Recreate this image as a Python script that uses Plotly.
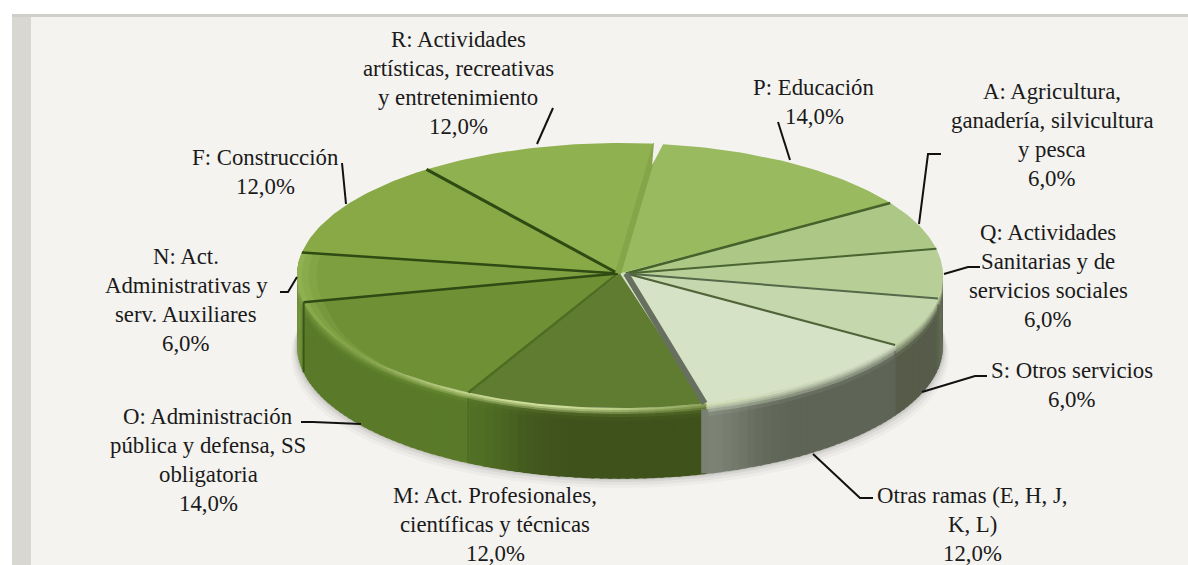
import numpy as np
import plotly.graph_objects as go

# ---------- data ----------
categories = ["P: Educación", "A: Agricultura, ganadería, silvicultura y pesca",
              "Q: Actividades Sanitarias y de servicios sociales", "S: Otros servicios",
              "Otras ramas (E, H, J, K, L)", "M: Act. Profesionales, científicas y técnicas",
              "O: Administración pública y defensa, SS obligatoria",
              "N: Act. Administrativas y serv. Auxiliares", "F: Construcción",
              "R: Actividades artísticas, recreativas y entretenimiento"]
values = [14, 6, 6, 6, 12, 12, 14, 6, 12, 12]
label_lines = [
    ["P: Educación"],
    ["A: Agricultura,", "ganadería, silvicultura", "y pesca"],
    ["Q: Actividades", "Sanitarias y de", "servicios sociales"],
    ["S: Otros servicios"],
    ["Otras ramas (E, H, J,", "K, L)"],
    ["M: Act. Profesionales,", "científicas y técnicas"],
    ["O: Administración", "pública y defensa, SS", "obligatoria"],
    ["N: Act.", "Administrativas y", "serv. Auxiliares"],
    ["F: Construcción"],
    ["R: Actividades", "artísticas, recreativas", "y entretenimiento"],
]

# ---------- styles and placement ----------
top_colors = ["#9aba60", "#adc786", "#b7cf96", "#c5d7ac", "#d6e2c6",
              "#607c30", "#6f9035", "#7e9f40", "#88a946", "#90b150"]
wall_colors = ["#7f9a50", "#7f9a50", "#595f4b", "#565c49", "#5e6456",
               "#3f521c", "#5a7a2a", "#6a8c33", "#6a8c33", "#6a8c33"]
label_anchor = [(814, 87), (1052, 91), (1048, 232), (1072, 370), (972, 495),
                (495, 495), (208, 416), (186, 256), (265, 157), (458, 39)]
leaders = [[(778, 122), (790, 160)], [(941, 154), (928, 154), (919, 224)],
           [(980, 267), (968, 267), (944, 274)], [(987, 376), (975, 376), (922, 392)],
           [(873, 498), (860, 498), (813, 454)], None,
           [(301, 422), (313, 422), (361, 424)], [(280, 292), (288, 292), (297, 277)],
           [(342, 163), (346, 204)], [(553, 108), (537, 144)]]
START_DEG = 6.4
CX, CY, RX, RY, DEPTH = 620, 275.5, 323, 132.5, 70
LINE_H = 29
FONT = "Liberation Serif"
FSIZE = 22.8


def rgb(h):
    return np.array([int(h[i:i + 2], 16) for i in (1, 3, 5)], float)


def css(c):
    return "rgb(%d,%d,%d)" % tuple(np.clip(c, 0, 255))


def ell(t, scale=1.0, dy=0.0):
    r = np.radians(t)
    return CX + RX * scale * np.sin(r), CY + RY * scale * -np.cos(r) + dy


def poly(x, y, color, name=None, width=0):
    return go.Scatter(x=list(x), y=list(y), mode="lines", fill="toself", fillcolor=color,
                      line=dict(width=width, color=color), hoverinfo="skip" if name is None else "text",
                      text=name, showlegend=False)


fig = go.Figure()

# slice boundaries come straight from the values
edges = START_DEG + np.concatenate([[0], np.cumsum(values)]) * 3.6

# soft drop shadow
for k, a in [(10, .04), (7, .06), (4, .08), (2, .1)]:
    t = np.linspace(60, 300, 120)
    x, y = ell(t, 1.0, DEPTH + k)
    x = x + k * np.sin(np.radians(t)) * .6
    fig.add_trace(poly(x, y, f"rgba(70,70,60,{a})"))

# side walls, banded by angle and by height
DEPTH_BANDS = [0, 2, 4, 6, 9, 13, 18, 70]
for i, val in enumerate(values):
    a0, a1 = edges[i], edges[i + 1]
    lo, hi = max(a0, 85), min(a1, 275)
    if lo >= hi:
        continue
    steps = max(2, int((hi - lo) / 1.5))
    ts = np.linspace(lo, hi, steps + 1)
    top = rgb(top_colors[i])
    for s in range(steps):
        tm = (ts[s] + ts[s + 1]) / 2
        wall = rgb(wall_colors[i])
        if i == 4:      # Otras: lighter next to the cut face
            wall = wall + (np.array([125, 132, 118.]) - wall) * np.exp(-((tm - edges[5]) / 9) ** 2)
        if i == 5:      # M: lighter towards the O side
            wall = wall + (np.array([82, 112, 38.]) - wall) * np.exp(-((tm - edges[6]) / 10) ** 2)
        # highlight on the front left of the bevel
        glow = np.exp(-((tm - 195) / 32) ** 2)
        for b in range(len(DEPTH_BANDS) - 1):
            d0, d1 = DEPTH_BANDS[b], DEPTH_BANDS[b + 1]
            mid = (d0 + d1) / 2
            k = min(1, mid / 12)
            base = top * (1 - k) + wall * k
            if d0 < 6:
                base = base + (np.array([225, 240, 170.]) - base) * glow * (1 - mid / 7)
            xa, ya = ell(ts[s:s + 2] + [-.3, .3], 1.0, d0)
            xb, yb = ell(ts[s:s + 2][::-1] + [.3, -.3], 1.0, d1 + .8)
            fig.add_trace(poly(np.r_[xa, xb], np.r_[ya, yb], css(base)))

# top faces
for i, val in enumerate(values):
    t = np.linspace(edges[i], edges[i + 1], 40)
    x, y = ell(t)
    fig.add_trace(poly(np.r_[CX, x, CX], np.r_[CY - 2, y, CY - 2], top_colors[i],
                       name=f"{categories[i]}: {val},0%"))

# faint lighter rim on the left part of the top face, tapering towards the front
for i in (6, 7):
    for scale, amount in [(.94, .15), (.965, .3), (.985, .45)]:
        t = np.linspace(max(edges[i], 225), edges[i + 1], 30)
        fade = np.clip((t - 225) / 30, 0, 1)
        xo, yo = ell(t, 1.0)
        xi, yi = ell(t[::-1], (1 - (1 - scale) * fade)[::-1])
        fig.add_trace(poly(np.r_[xo, xi], np.r_[yo, yi],
                           css(rgb(top_colors[i]) * (1 - amount) + np.array([165, 200, 100.]) * amount)))

# dividers on the top face
div_style = {0: ("#46622a", 2.5), 1: ("#4a6432", 2), 2: ("#55694a", 2), 3: ("#4f6439", 2),
             4: ("#67705f", 6), 5: ("#4f6d22", 2.5), 6: ("#2f4a12", 2.5),
             7: ("#2f4a12", 2.5), 8: ("#2f4a12", 3), 9: ("#86a44a", 6)}
for i, e in enumerate(edges[1:]):
    x, y = ell(np.array([e]))
    col, w = div_style[i]
    fig.add_trace(go.Scatter(x=[CX + (6 if i < 5 else -2), x[0]], y=[CY - 2, y[0]], mode="lines",
                             line=dict(color=col, width=w), hoverinfo="skip", showlegend=False))
    if 85 < e < 275:
        wall_col = {3: "#5c6150", 4: "#7b8075", 5: "#4f6d22", 6: "#3a5618"}.get(i, col)
        fig.add_trace(go.Scatter(x=[x[0], x[0]], y=[y[0] + (0 if i == 6 else 6), y[0] + DEPTH], mode="lines",
                                 line=dict(color=wall_col, width={3: 1, 4: 7, 5: 2, 6: 2}.get(i, 1.5)),
                                 hoverinfo="skip", showlegend=False))

# small gap at the rim between R and P
x0, y0 = ell(np.array([START_DEG + .4]), .84)
x1, y1 = ell(np.array([START_DEG - .4, START_DEG + 1.3]), 1.005)
fig.add_trace(poly([x0[0], x1[0], x1[1]], [y0[0], y1[0], y1[1]], "#f2f1ee"))

# leader lines
for pts in leaders:
    if pts:
        fig.add_trace(go.Scatter(x=[p[0] for p in pts], y=[p[1] for p in pts], mode="lines",
                                 line=dict(color="#111111", width=2), hoverinfo="skip", showlegend=False))

# labels
ann = []
for lines, v, (ax, ay) in zip(label_lines, values, label_anchor):
    for n, s in enumerate(lines + [f"{v},0%"]):
        ann.append(dict(x=ax, y=ay + n * LINE_H, text=s, showarrow=False, xanchor="center",
                        yanchor="middle", font=dict(family=FONT, size=FSIZE, color="#1a1a1a")))

shapes = [
    dict(type="rect", x0=12, x1=1188, y0=16, y1=565, fillcolor="#f4f3f0", line_width=0, layer="below"),
    dict(type="rect", x0=12, x1=31, y0=16, y1=565, fillcolor="#d8d7d1", line_width=0, layer="below"),
    dict(type="rect", x0=12, x1=1188, y0=14, y1=17, fillcolor="#cfcecb", line_width=0, layer="below"),
]

fig.update_layout(
    width=1188, height=565, margin=dict(l=0, r=0, t=0, b=0),
    paper_bgcolor="white", plot_bgcolor="white", showlegend=False,
    xaxis=dict(range=[0, 1188], visible=False, fixedrange=True),
    yaxis=dict(range=[565, 0], visible=False, fixedrange=True),
    annotations=ann, shapes=shapes,
)
fig.write_html("out.html", config=dict(displayModeBar=False), default_width="1188px", default_height="565px",
               post_script="document.body.style.margin='0';document.body.style.overflow='hidden';")
